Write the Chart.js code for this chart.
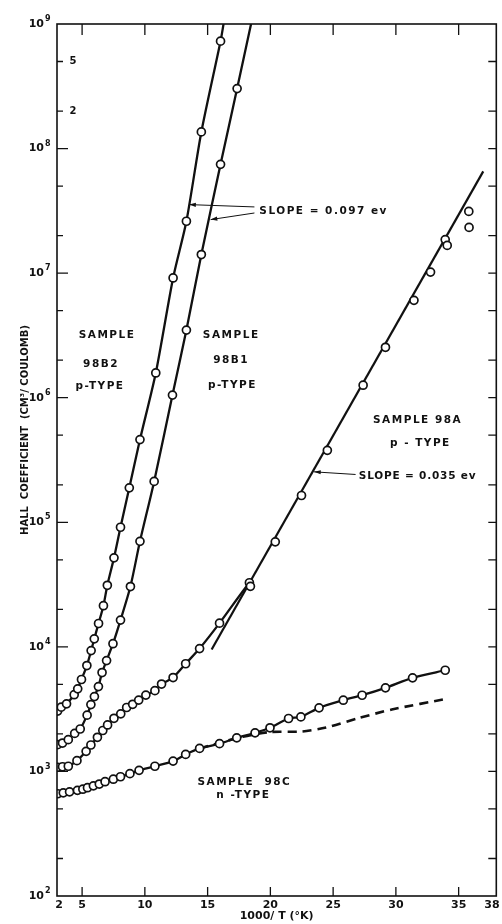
<!DOCTYPE html>
<html>
<head>
<meta charset="utf-8">
<script src="https://cdn.jsdelivr.net/npm/chart.js@4.4.1/dist/chart.umd.min.js"></script>
<style>
  html, body { margin: 0; padding: 0; background: #fff; }
</style>
</head>
<body>
<canvas id="hallChart" width="502" height="924"></canvas>
<script>
// 1000/T (1/K) against Hall coefficient (cm^3/coulomb), one pair of arrays per sample
const x98B2 = [3.05, 3.34, 3.76, 4.37, 4.65, 4.95, 5.38, 5.72, 5.97, 6.31, 6.70, 7.01, 7.54, 8.06, 8.76, 9.61, 10.87, 12.25, 13.31, 14.50, 16.03];
const y98B2 = [3050, 3280, 3490, 4130, 4600, 5470, 7080, 9330, 11600, 15400, 21400, 31200, 51800, 91200, 189000, 461000, 1.58e6, 9.15e6, 2.61e7, 1.36e8, 7.28e8];
const tail98B2 = [16.27, 1e9];

const x98B1 = [3.05, 3.44, 3.90, 4.41, 4.85, 5.40, 5.70, 5.98, 6.30, 6.59, 6.95, 7.46, 8.06, 8.85, 9.61, 10.74, 12.20, 13.31, 14.50, 16.03, 17.35];
const y98B1 = [1640, 1690, 1800, 2020, 2190, 2830, 3440, 3990, 4800, 6220, 7760, 10600, 16400, 30500, 70300, 213000, 1.05e6, 3.49e6, 1.41e7, 7.47e7, 3.03e8];
const tail98B1 = [18.46, 1e9];

const x98A = [3.05, 3.44, 3.90, 4.59, 5.32, 5.70, 6.22, 6.65, 7.03, 7.54, 8.08, 8.55, 9.03, 9.51, 10.08, 10.80, 11.33, 12.25, 13.25, 14.36, 15.95, 18.33, 18.41, 20.39, 22.48, 24.54, 27.39, 29.17, 31.44, 32.76, 33.93, 34.09, 35.81, 35.83];
const y98A = [1080, 1090, 1100, 1220, 1450, 1630, 1880, 2130, 2360, 2670, 2900, 3260, 3460, 3740, 4100, 4450, 5030, 5670, 7320, 9690, 15500, 32700, 30600, 69700, 164000, 378000, 1.26e6, 2.54e6, 6.05e6, 1.02e7, 1.86e7, 1.67e7, 3.13e7, 2.33e7];
const curveEnd98A = 21;           // hand curve runs through points 0..21, the slope line covers the rest
const slopeX98A = [15.32, 36.96];
const slopeY98A = [9510, 6.56e7];

const x98C = [3.05, 3.50, 4.00, 4.63, 5.06, 5.43, 5.90, 6.37, 6.83, 7.49, 8.06, 8.81, 9.54, 10.80, 12.25, 13.25, 14.36, 15.95, 17.32, 18.78, 19.97, 21.45, 22.43, 23.88, 25.81, 27.31, 29.17, 31.33, 33.93];
const y98C = [662, 673, 686, 705, 720, 740, 766, 792, 827, 866, 906, 959, 1020, 1100, 1210, 1370, 1530, 1670, 1860, 2040, 2240, 2660, 2740, 3240, 3730, 4090, 4690, 5640, 6490];
const dashX98C = [14.36, 17.54, 19.92, 22.53, 24.44, 27.05, 29.67, 34.19];
const dashY98C = [1530, 1870, 2070, 2090, 2250, 2680, 3140, 3850];

// axis ticks
const xTickValues = [3, 5, 10, 15, 20, 25, 30, 35, 38];
const xTickLabels = ['2', '5', '10', '15', '20', '25', '30', '35', '38'];
const yExponents = [2, 3, 4, 5, 6, 7, 8, 9];
const yMinorSteps = [2, 5];
const yMinorLabels = [[5e8, '5'], [2e8, '2']];

// text written on the plot, anchored in data units
const notes = [
  { text: 'SAMPLE', x: 6.99, y: 3.17e6 },
  { text: '98B2', x: 6.51, y: 1.87e6 },
  { text: 'p-TYPE', x: 6.43, y: 1.23e6 },
  { text: 'SAMPLE', x: 16.88, y: 3.15e6 },
  { text: '98B1', x: 16.88, y: 1.99e6 },
  { text: 'p-TYPE', x: 16.98, y: 1.25e6 },
  { text: 'SAMPLE 98A', x: 31.73, y: 6.59e5 },
  { text: 'p - TYPE', x: 31.95, y: 4.34e5 },
  { text: 'SAMPLE  98C', x: 17.93, y: 819 },
  { text: 'n -TYPE', x: 17.85, y: 641 }
];
const slopeNotes = [
  { text: 'SLOPE = 0.097 ev', x: 19.12, y: 3.13e7, spacing: '1.5px' },
  { text: 'SLOPE = 0.035 ev', x: 27.05, y: 2.34e5, spacing: '0.8px' }
];
const arrows = [
  { from: [18.73, 3.40e7], to: [13.53, 3.55e7] },
  { from: [18.73, 3.04e7], to: [15.24, 2.69e7] },
  { from: [26.79, 2.42e5], to: [23.48, 2.54e5] }
];

const INK = '#111';
const toPoints = (xs, ys) => xs.map((v, i) => ({ x: v, y: ys[i] }));

function sampleCurve(label, xs, ys, tail) {
  const pts = toPoints(xs, ys);
  if (tail) pts.push({ x: tail[0], y: tail[1] });
  return {
    label,
    data: pts,
    showLine: true,
    borderColor: INK,
    borderWidth: 2.3,
    tension: 0.25,
    pointRadius: ctx => (ctx.dataIndex < xs.length ? 4 : 0),
    pointBackgroundColor: '#fff',
    pointBorderColor: INK,
    pointBorderWidth: 1.7
  };
}

const set98A = sampleCurve('98A', x98A, y98A);
set98A.segment = {
  borderColor: ctx => (ctx.p0DataIndex >= curveEnd98A ? 'rgba(0,0,0,0)' : INK)
};

const datasets = [
  sampleCurve('98B2', x98B2, y98B2, tail98B2),
  sampleCurve('98B1', x98B1, y98B1, tail98B1),
  set98A,
  {
    label: '98A slope',
    data: toPoints(slopeX98A, slopeY98A),
    showLine: true, borderColor: INK, borderWidth: 2.2, pointRadius: 0
  },
  sampleCurve('98C', x98C, y98C),
  {
    label: '98C dashed',
    data: toPoints(dashX98C, dashY98C),
    showLine: true, borderColor: INK, borderWidth: 2.6, borderDash: [9, 6],
    tension: 0.25, pointRadius: 0
  }
];

const FONT = '"DejaVu Sans", sans-serif';

// frame, inward ticks, labels and notes
const framePlugin = {
  id: 'frame',
  afterDatasetsDraw(chart) {
    const { ctx, chartArea: a, scales: { x, y } } = chart;
    ctx.save();
    ctx.strokeStyle = INK;
    ctx.fillStyle = INK;
    ctx.lineWidth = 1.6;
    ctx.strokeRect(a.left, a.top, a.right - a.left, a.bottom - a.top);

    ctx.lineWidth = 1.3;
    ctx.beginPath();
    xTickValues.forEach(v => {
      if (v <= x.min || v >= x.max) return;
      const px = x.getPixelForValue(v);
      ctx.moveTo(px, a.bottom); ctx.lineTo(px, a.bottom - 9);
      ctx.moveTo(px, a.top); ctx.lineTo(px, a.top + 11);
    });
    yExponents.forEach(e => {
      [1].concat(yMinorSteps).forEach(m => {
        const v = m * Math.pow(10, e);
        if (v <= y.min || v >= y.max) return;
        const py = y.getPixelForValue(v);
        ctx.moveTo(a.left, py); ctx.lineTo(a.left + (m === 1 ? 11 : 6), py);
        ctx.moveTo(a.right, py); ctx.lineTo(a.right - 8, py);
      });
    });
    ctx.stroke();

    // y labels: 10 with raised exponent
    ctx.textBaseline = 'middle';
    yExponents.forEach(e => {
      const py = y.getPixelForValue(Math.pow(10, e));
      ctx.font = 'bold 11px ' + FONT;
      ctx.textAlign = 'right';
      ctx.fillText('10', a.left - 13, py);
      ctx.font = 'bold 8px ' + FONT;
      ctx.textAlign = 'left';
      ctx.fillText(String(e), a.left - 12, py - 5);
    });
    ctx.font = 'bold 10px ' + FONT;
    ctx.textAlign = 'center';
    yMinorLabels.forEach(([v, t]) => {
      ctx.fillText(t, a.left + 16, y.getPixelForValue(v));
    });

    // x labels
    ctx.font = 'bold 11px ' + FONT;
    xTickValues.forEach((v, i) => {
      let px = x.getPixelForValue(v);
      if (i === 0) px += 2;
      px = Math.min(px, chart.width - 10);
      ctx.fillText(xTickLabels[i], px, a.bottom + 9);
    });
    ctx.fillText('1000/ T (°K)', (a.left + a.right) / 2, a.bottom + 20);

    // y title
    ctx.save();
    ctx.translate(25, 430);
    ctx.rotate(-Math.PI / 2);
    ctx.font = 'bold 10px ' + FONT;
    ctx.fillText('HALL  COEFFICIENT  (CM³/ COULOMB)', 0, 0);
    ctx.restore();

    // sample names
    ctx.font = 'bold 10.5px ' + FONT;
    ctx.letterSpacing = '1.5px';
    notes.forEach(n => {
      ctx.fillText(n.text, x.getPixelForValue(n.x), y.getPixelForValue(n.y));
    });
    ctx.textAlign = 'left';
    slopeNotes.forEach(n => {
      ctx.letterSpacing = n.spacing;
      ctx.fillText(n.text, x.getPixelForValue(n.x), y.getPixelForValue(n.y));
    });
    ctx.letterSpacing = '0px';

    // arrows
    ctx.lineWidth = 1;
    arrows.forEach(ar => {
      const x0 = x.getPixelForValue(ar.from[0]), y0 = y.getPixelForValue(ar.from[1]);
      const x1 = x.getPixelForValue(ar.to[0]), y1 = y.getPixelForValue(ar.to[1]);
      const ang = Math.atan2(y1 - y0, x1 - x0);
      ctx.beginPath();
      ctx.moveTo(x0, y0); ctx.lineTo(x1, y1);
      ctx.stroke();
      ctx.beginPath();
      ctx.moveTo(x1, y1);
      ctx.lineTo(x1 - 7 * Math.cos(ang - 0.3), y1 - 7 * Math.sin(ang - 0.3));
      ctx.lineTo(x1 - 7 * Math.cos(ang + 0.3), y1 - 7 * Math.sin(ang + 0.3));
      ctx.closePath();
      ctx.fill();
    });
    ctx.restore();
  }
};

new Chart(document.getElementById('hallChart'), {
  type: 'scatter',
  data: { datasets },
  options: {
    responsive: false,
    animation: false,
    devicePixelRatio: 1,
    layout: { padding: { left: 57, top: 24, right: 4, bottom: 28 } },
    plugins: { legend: { display: false }, tooltip: { enabled: false } },
    scales: {
      x: { type: 'linear', min: 3, max: 38, display: false },
      y: { type: 'logarithmic', min: 100, max: 1e9, display: false }
    }
  },
  plugins: [framePlugin]
});
</script>
</body>
</html>
